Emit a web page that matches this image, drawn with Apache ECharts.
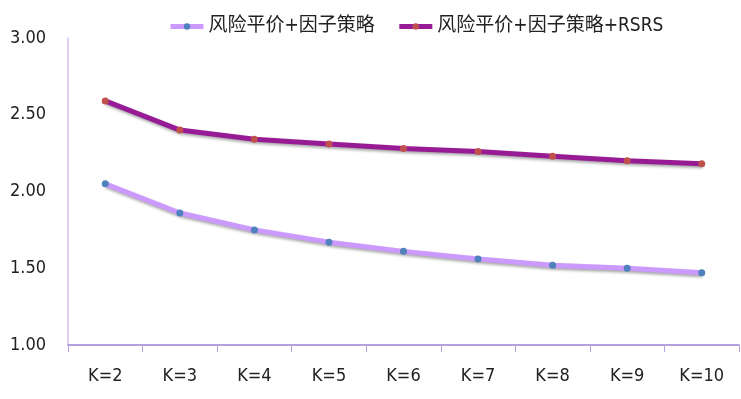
<!DOCTYPE html>
<html>
<head>
<meta charset="utf-8">
<script src="https://cdn.jsdelivr.net/npm/echarts@6/dist/echarts.min.js"></script>
<style>
  html, body { margin: 0; padding: 0; background: #fff; }
  #main { width: 741px; height: 399px; }
</style>
</head>
<body>
<div id="main"></div>
<script>
// 横轴类别
const categories = ['K=2', 'K=3', 'K=4', 'K=5', 'K=6', 'K=7', 'K=8', 'K=9', 'K=10'];
// 两条曲线的数值
const riskParity = [2.05, 1.86, 1.75, 1.67, 1.61, 1.56, 1.52, 1.50, 1.47];
const riskParityRsrs = [2.59, 2.40, 2.34, 2.31, 2.28, 2.26, 2.23, 2.20, 2.18];
const seriesNames = ['风险平价+因子策略', '风险平价+因子策略+RSRS'];

const chart = echarts.init(document.getElementById('main'));

// 原图字体偏窄，用 Condensed 字体拉近
const font = '"DejaVu Sans Condensed", "Noto Sans CJK SC", sans-serif';

chart.setOption({
  backgroundColor: '#ffffff',
  animation: false,
  legend: {
    top: 12,
    left: 163,
    itemGap: 22,
    itemWidth: 33,
    itemHeight: 8,
    lineStyle: { width: 5 },
    textStyle: { fontFamily: font, fontSize: 19, color: '#222' },
    data: seriesNames
  },
  grid: { left: 68, right: 2, top: 38, bottom: 54 },
  xAxis: {
    type: 'category',
    data: categories,
    boundaryGap: true,
    axisLine: { lineStyle: { color: '#9b82cf', width: 1.5 } },
    axisTick: { show: true, length: 7, lineStyle: { color: '#b9a3dd' } },
    axisLabel: { fontFamily: font, fontSize: 18, color: '#222', margin: 22 }
  },
  yAxis: {
    type: 'value',
    min: 1,
    max: 3,
    interval: 0.5,
    axisLine: { show: true, lineStyle: { color: '#d4bfee', width: 1.5 } },
    axisTick: { show: false },
    splitLine: { show: false },
    axisLabel: {
      fontFamily: font, fontSize: 18, color: '#222', margin: 22,
      formatter: v => v.toFixed(2)
    }
  },
  series: [
    {
      name: seriesNames[0],
      type: 'line',
      data: riskParity,
      symbol: 'circle',
      symbolSize: 7,
      lineStyle: {
        color: '#cc99ff', width: 5,
        shadowColor: 'rgba(0,0,0,0.35)', shadowBlur: 3, shadowOffsetY: 2, shadowOffsetX: 1
      },
      itemStyle: { color: '#4f81bd' }
    },
    {
      name: seriesNames[1],
      type: 'line',
      data: riskParityRsrs,
      symbol: 'circle',
      symbolSize: 7,
      lineStyle: {
        color: '#981b96', width: 5,
        shadowColor: 'rgba(0,0,0,0.35)', shadowBlur: 3, shadowOffsetY: 2, shadowOffsetX: 1
      },
      itemStyle: { color: '#c0504d' }
    }
  ]
});
</script>
</body>
</html>
